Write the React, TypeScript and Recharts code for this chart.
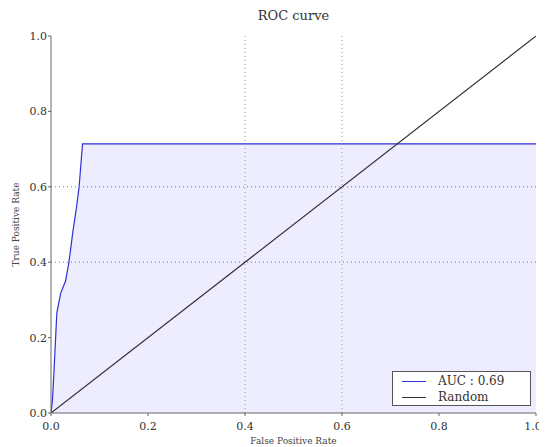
import React from 'react';
import { ComposedChart, Area, Line, XAxis, YAxis, ReferenceLine } from 'recharts';

const rocFpr = [0, 0.003, 0.006, 0.012, 0.02, 0.03, 0.037, 0.045, 0.052, 0.058, 0.065, 1.0];
const rocTpr = [0, 0.034, 0.106, 0.265, 0.318, 0.35, 0.4, 0.48, 0.54, 0.6, 0.714, 0.714];
const randomX = [0, 1];
const randomY = [0, 1];
const ticks = [0, 0.2, 0.4, 0.6, 0.8, 1.0];
const gridTicks = [0.4, 0.6];
const aucLabel = 'AUC : 0.69';
const randomLabel = 'Random';

const rocData = rocFpr.map((x, i) => ({ x, tpr: rocTpr[i] }));
const randomData = randomX.map((x, i) => ({ x, rnd: randomY[i] }));

const FONT = '"DejaVu Serif", serif';
const BLUE = '#2f2fd6';
const DARK = '#333333';
const FRAME = '#666666';

const XTick = (props: any) => {
  const { x, y, payload } = props;
  const v = payload.value as number;
  const dx = v >= 1 ? -3 : 0;
  return (
    <text x={x + dx} y={y + 4} dy="0.71em" textAnchor="middle" fill="#333" fontSize={11} fontFamily={FONT}>
      {v.toFixed(1)}
    </text>
  );
};

const LegendBox = () => (
  <div
    style={{
      position: 'absolute',
      left: 384,
      top: 363,
      border: '1px solid #555',
      background: '#fff',
      width: 139,
      height: 35,
      fontFamily: FONT,
      fontSize: 12,
      color: '#333',
      boxSizing: 'border-box',
      padding: '1px 0 0 9px',
      lineHeight: '16px',
    }}
  >
    <div style={{ display: 'flex', alignItems: 'center' }}>
      <span style={{ display: 'inline-block', width: 24, height: 0, borderTop: `1px solid ${BLUE}`, marginRight: 12 }} />
      <span>{aucLabel}</span>
    </div>
    <div style={{ display: 'flex', alignItems: 'center' }}>
      <span style={{ display: 'inline-block', width: 24, height: 0, borderTop: `1px solid ${DARK}`, marginRight: 12 }} />
      <span>{randomLabel}</span>
    </div>
  </div>
);

export default function App() {
  return (
    <div style={{ position: 'relative', width: 539, height: 439 }}>
      <div
        style={{
          position: 'absolute',
          left: 0,
          width: 571,
          top: 0,
          textAlign: 'center',
          fontFamily: FONT,
          fontSize: 13,
          color: '#333',
          lineHeight: '16px',
        }}
      >
        ROC curve
      </div>
      <ComposedChart
        width={539}
        height={439}
        margin={{ top: 28, right: 11, bottom: 0, left: 0 }}
        style={{ fontFamily: FONT }}
      >
        <XAxis
          xAxisId="b"
          dataKey="x"
          type="number"
          domain={[0, 1]}
          ticks={ticks}
          allowDataOverflow
          height={34}
          stroke={FRAME}
          tick={<XTick />}
          tickSize={3}
          label={{ value: 'False Positive Rate', position: 'insideBottom', offset: 3, fontSize: 9, fill: '#444', fontFamily: FONT }}
        />
        <XAxis xAxisId="t" orientation="top" type="number" domain={[0, 1]} height={0} tick={false} stroke={FRAME} />
        <YAxis
          yAxisId="l"
          type="number"
          domain={[0, 1]}
          ticks={ticks}
          tickFormatter={(v: number) => v.toFixed(1)}
          allowDataOverflow
          width={43}
          stroke={FRAME}
          tick={{ fill: '#333', fontSize: 11, fontFamily: FONT }}
          tickSize={3}
          tickMargin={1}
          label={{ value: 'True Positive Rate', angle: -90, position: 'insideLeft', offset: 8, fontSize: 9, fill: '#444', fontFamily: FONT, style: { textAnchor: 'middle' } }}
        />
        <YAxis yAxisId="r" orientation="right" type="number" domain={[0, 1]} width={0} tick={false} stroke={FRAME} />
        {gridTicks.map((g) => (
          <ReferenceLine key={'v' + g} xAxisId="b" yAxisId="l" x={g} stroke="#999" strokeDasharray="1 3" />
        ))}
        <Area
          xAxisId="b"
          yAxisId="l"
          data={rocData}
          dataKey="tpr"
          type="linear"
          stroke={BLUE}
          strokeWidth={1.2}
          fill="#6a6aff"
          fillOpacity={0.12}
          isAnimationActive={false}
          dot={false}
          activeDot={false}
        />
        {gridTicks.map((g) => (
          <ReferenceLine key={'h' + g} xAxisId="b" yAxisId="l" y={g} stroke="#777" strokeDasharray="1 3" />
        ))}
        <Line
          xAxisId="b"
          yAxisId="l"
          data={randomData}
          dataKey="rnd"
          type="linear"
          stroke={DARK}
          strokeWidth={1.2}
          dot={false}
          activeDot={false}
          isAnimationActive={false}
        />
      </ComposedChart>
      <LegendBox />
    </div>
  );
}
